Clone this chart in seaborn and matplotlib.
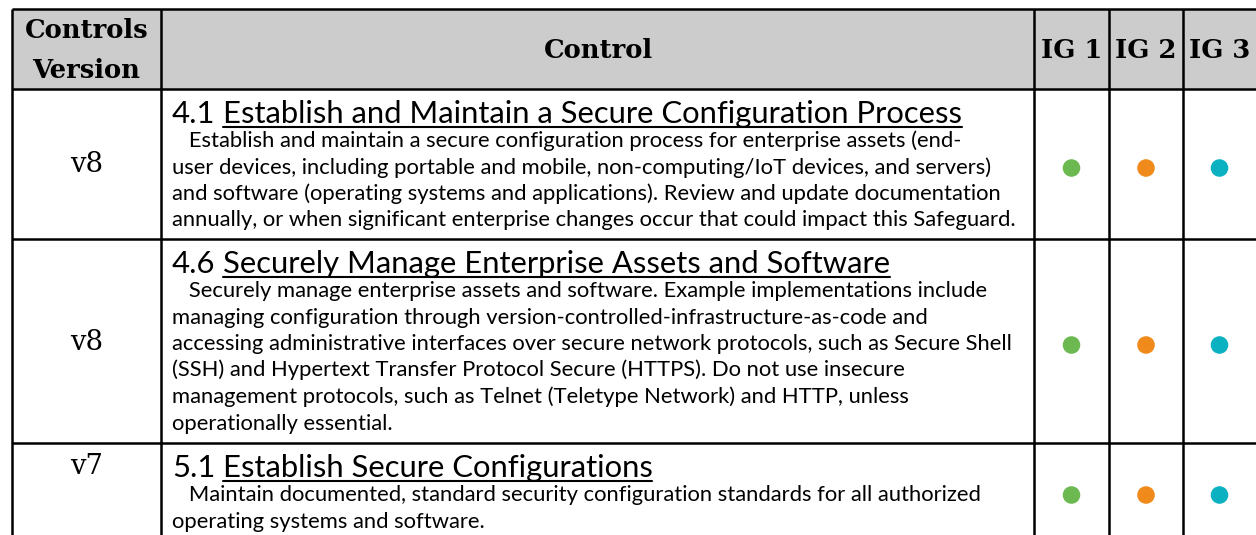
import matplotlib
matplotlib.use("Agg")
import matplotlib.pyplot as plt
import pandas as pd
import seaborn as sns

# === I. Table content ===
header_version = ["Controls", "Version"]
header_control = "Control"
ig_labels = ["IG 1", "IG 2", "IG 3"]
ig_colors = ["#6cb952", "#f08a1a", "#0bb0c1"]

versions = ["v8", "v8", "v7"]
control_ids = ["4.1", "4.6", "5.1"]
control_titles = [
    "Establish and Maintain a Secure Configuration Process",
    "Securely Manage Enterprise Assets and Software",
    "Establish Secure Configurations",
]
control_descriptions = [
    ["   Establish and maintain a secure configuration process for enterprise assets (end-",
     "user devices, including portable and mobile, non-computing/IoT devices, and servers)",
     "and software (operating systems and applications). Review and update documentation",
     "annually, or when significant enterprise changes occur that could impact this Safeguard."],
    ["   Securely manage enterprise assets and software. Example implementations include",
     "managing configuration through version-controlled-infrastructure-as-code and",
     "accessing administrative interfaces over secure network protocols, such as Secure Shell",
     "(SSH) and Hypertext Transfer Protocol Secure (HTTPS). Do not use insecure",
     "management protocols, such as Telnet (Teletype Network) and HTTP, unless",
     "operationally essential."],
    ["   Maintain documented, standard security configuration standards for all authorized",
     "operating systems and software."],
]
ig_flags = [
    [True, True, True],
    [True, True, True],
    [True, True, True],
]

# === II. Layout (pixels) ===
W, H = 1256, 535
col_edges = [12, 161, 1034, 1109, 1183, 1262]
row_edges = [9, 89, 239, 443, 539]
version_y = [164, 342, 467]
line_color = "black"
header_fill = "#cccccc"

SANS = ["Lato", "DejaVu Sans"]
SERIF = ["DejaVu Serif"]

sns.set_style("white")
plt.rcParams["font.family"] = SANS
plt.rcParams["text.color"] = "black"

fig = plt.figure(figsize=(W / 100, H / 100), dpi=100)
ax = fig.add_axes([0, 0, 1, 1])
ax.set_xlim(0, W)
ax.set_ylim(H, 0)
ax.axis("off")
renderer = fig.canvas.get_renderer()


def fit_size(text, target, **kw):
    # font size that makes `text` span `target` pixels
    t = ax.text(0, 0, text, fontsize=10, **kw)
    w = t.get_window_extent(renderer).width
    t.remove()
    return 10 * target / w


def right_edge(t):
    bb = t.get_window_extent(renderer)
    return ax.transData.inverted().transform((bb.x1, bb.y0))[0]


# header background
ax.fill_between([col_edges[0], col_edges[-1]], row_edges[0], row_edges[1],
                color=header_fill, lw=0, zorder=0)

# grid
ax.hlines(row_edges, col_edges[0], col_edges[-1], color=line_color, lw=1.8, zorder=3)
ax.vlines(col_edges, row_edges[0], row_edges[-1], color=line_color, lw=1.8, zorder=3)

# === III. Header text ===
col_mid = [(a + b) / 2 for a, b in zip(col_edges[:-1], col_edges[1:])]
col_mid[-1] = (col_edges[4] + W) / 2
head_size = fit_size(header_version[0], 124, family=SERIF, weight="bold")
ax.text(col_mid[0], 31, header_version[0], ha="center", va="center",
        family=SERIF, weight="bold", fontsize=head_size)
ax.text(col_mid[0], 70, header_version[1], ha="center", va="center",
        family=SERIF, weight="bold", fontsize=head_size)
ax.text(598, 50, header_control, ha="center", va="center",
        family=SERIF, weight="bold", fontsize=head_size)
for i, lab in enumerate(ig_labels):
    ax.text(col_mid[i + 2], 50, lab, ha="center", va="center",
            family=SERIF, weight="bold", fontsize=head_size)

# === IV. Body rows ===
body_size = fit_size(control_descriptions[0][3], 846)
title_size = fit_size(control_ids[0] + " " + control_titles[0], 793)
ver_size = fit_size("v8", 33, family=SERIF)
space_px = title_size * 100 / 72 * 0.23

for r in range(len(versions)):
    top = row_edges[r + 1]
    ax.text(col_mid[0], version_y[r], versions[r], ha="center", va="center",
            family=SERIF, fontsize=ver_size)
    base = top + 34
    t_id = ax.text(172, base, control_ids[r], va="baseline", fontsize=title_size)
    x1 = right_edge(t_id) + space_px
    t_name = ax.text(x1, base, control_titles[r], va="baseline", fontsize=title_size)
    x2 = right_edge(t_name)
    ax.plot([x1, x2], [base + 4, base + 4], color="black", lw=1.5)
    for k, line in enumerate(control_descriptions[r]):
        ax.text(172, top + 58 + 26.5 * k, line, va="baseline", fontsize=body_size)

# === V. Implementation group dots ===
dots = []
for r, flags in enumerate(ig_flags):
    yc = (row_edges[r + 1] + row_edges[r + 2]) / 2 + 4
    for i, on in enumerate(flags):
        if on:
            dots.append({"x": col_mid[i + 2], "y": yc, "ig": ig_labels[i]})
df = pd.DataFrame(dots)
sns.scatterplot(data=df, x="x", y="y", hue="ig", palette=dict(zip(ig_labels, ig_colors)),
                s=160, edgecolor="none", legend=False, ax=ax, zorder=4)
ax.set_xlim(0, W)
ax.set_ylim(H, 0)
ax.axis("off")

fig.savefig("out.png", dpi=100)
